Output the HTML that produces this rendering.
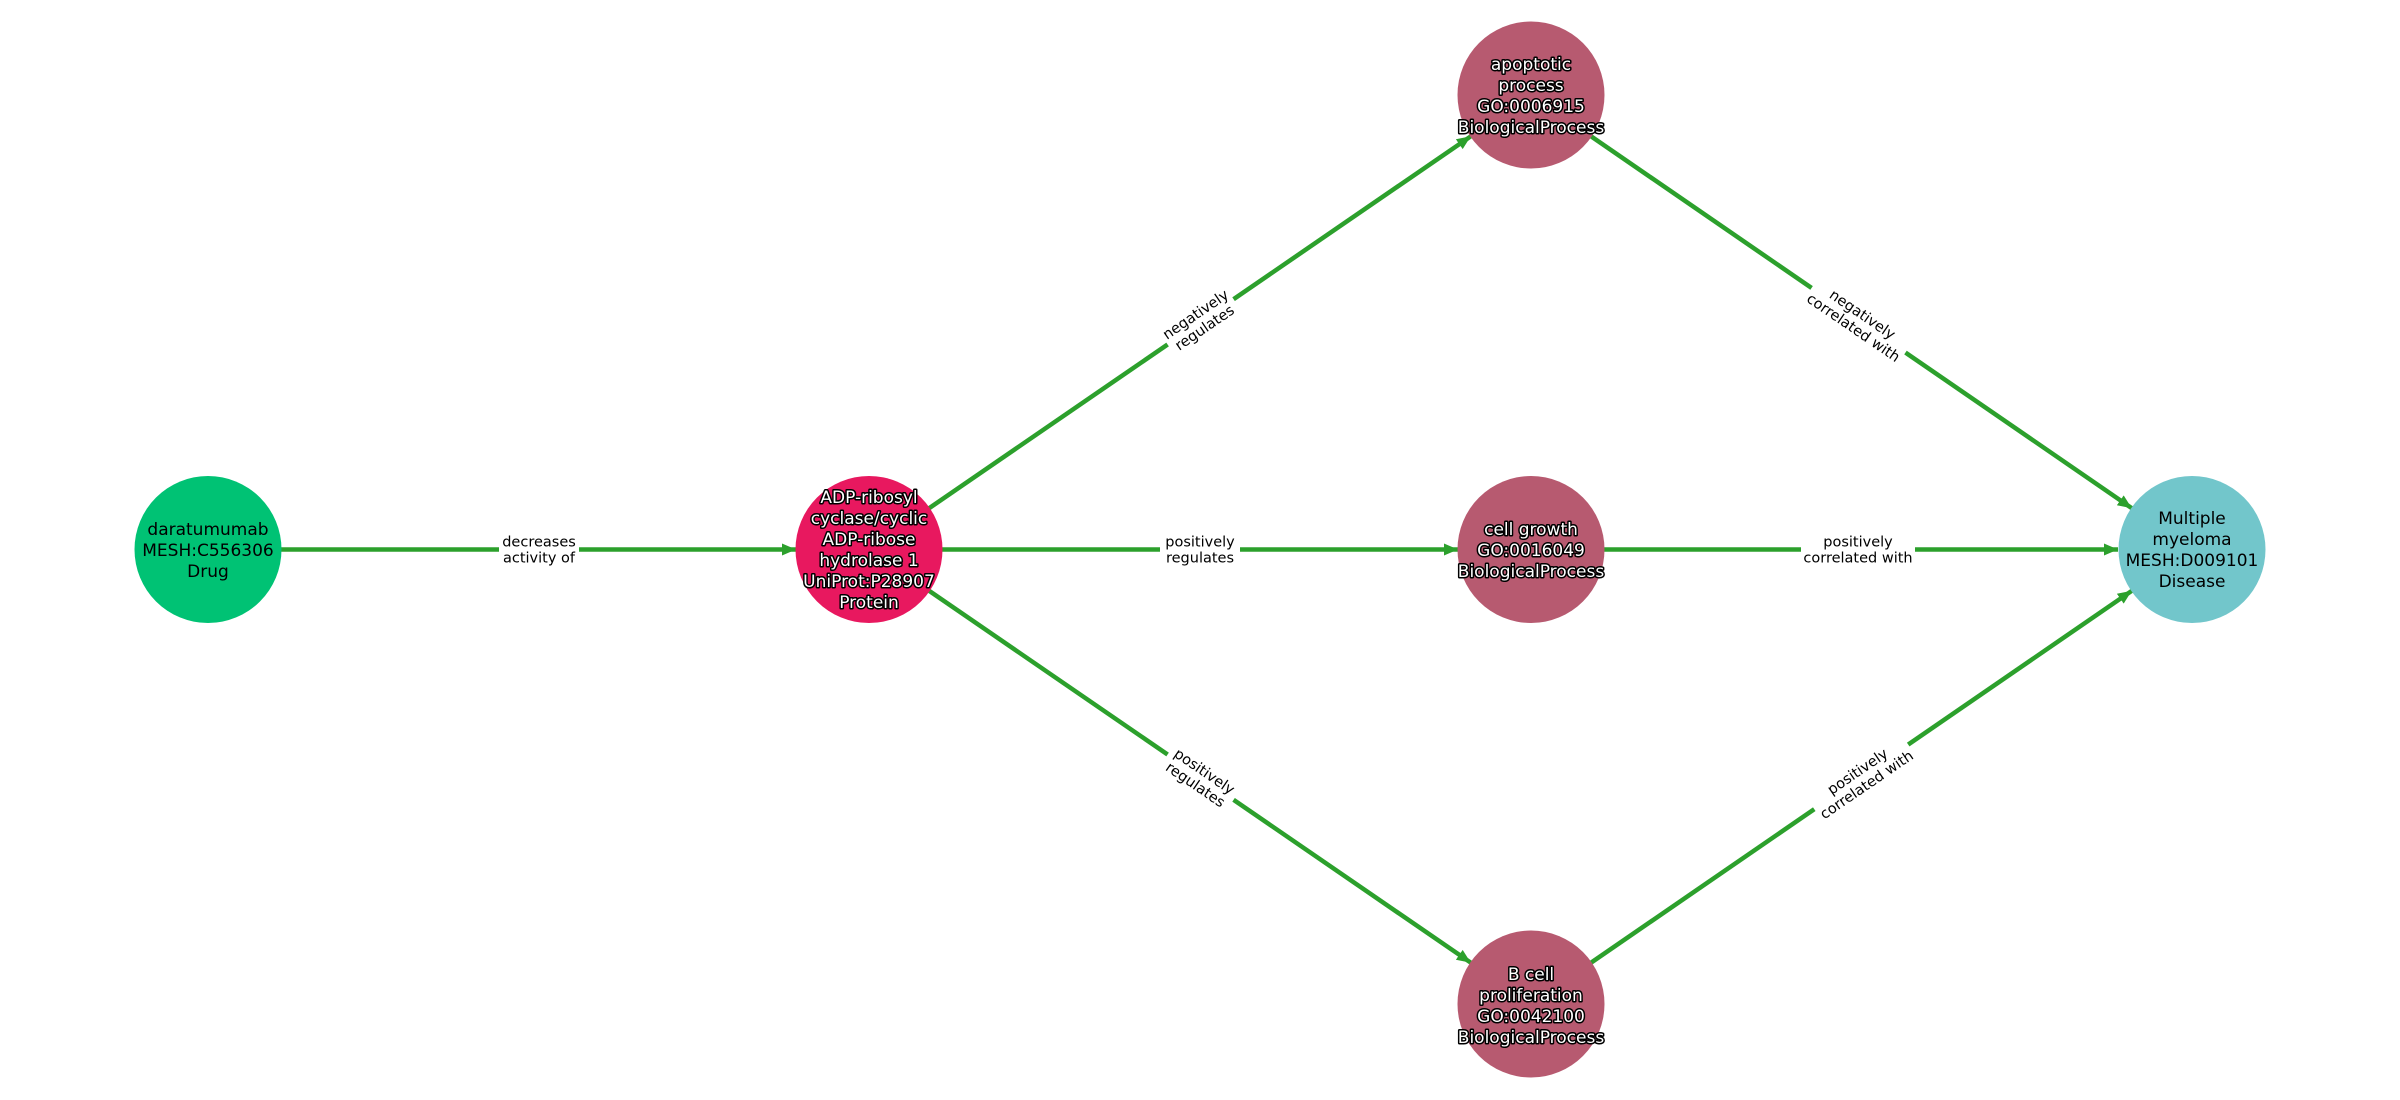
<!DOCTYPE html>
<html><head><meta charset="utf-8"><style>
html,body{margin:0;padding:0;background:#fff;}
svg{display:block;}
.n{font-family:"DejaVu Sans","Liberation Sans",sans-serif;font-size:17px;text-anchor:middle;}
.w{fill:#fff;stroke:#000;stroke-width:3px;paint-order:stroke;stroke-linejoin:round;}
.b{fill:#000;}
.e{font-family:"DejaVu Sans","Liberation Sans",sans-serif;font-size:14.5px;text-anchor:middle;fill:#000;}
</style></head><body>
<svg width="2400" height="1100" viewBox="0 0 2400 1100" xmlns="http://www.w3.org/2000/svg">
<defs>
<marker id="a" markerUnits="userSpaceOnUse" markerWidth="16" markerHeight="14" refX="14" refY="7" orient="auto">
<path d="M0,1 L14,7 L0,13 z" fill="#2ca02c"/>
</marker>
</defs>
<g stroke="#2ca02c" stroke-width="4.5" fill="none" marker-end="url(#a)">
<line x1="208" y1="549.5" x2="796" y2="549.5"/>
<line x1="869" y1="549.5" x2="1470.8" y2="136.3"/>
<line x1="869" y1="549.5" x2="1458" y2="549.5"/>
<line x1="869" y1="549.5" x2="1470.8" y2="962.7"/>
<line x1="1531" y1="95" x2="2131.8" y2="508.2"/>
<line x1="1531" y1="549.5" x2="2118" y2="549.5"/>
<line x1="1531" y1="1004" x2="2131.8" y2="590.8"/>
</g>
<!-- edge labels -->
<g transform="translate(539,549.5)"><rect x="-40" y="-18" width="80" height="36" fill="#fff"/><text class="e" y="-3">decreases</text><text class="e" y="13">activity of</text></g>
<g transform="translate(1200,321) rotate(-34.4)"><rect x="-40" y="-18" width="80" height="36" fill="#fff"/><text class="e" y="-3">negatively</text><text class="e" y="13">regulates</text></g>
<g transform="translate(1200,549.5)"><rect x="-40" y="-18" width="80" height="36" fill="#fff"/><text class="e" y="-3">positively</text><text class="e" y="13">regulates</text></g>
<g transform="translate(1200,778) rotate(34.4)"><rect x="-40" y="-18" width="80" height="36" fill="#fff"/><text class="e" y="-3">positively</text><text class="e" y="13">regulates</text></g>
<g transform="translate(1858,321) rotate(34.4)"><rect x="-57" y="-18" width="114" height="36" fill="#fff"/><text class="e" y="-3">negatively</text><text class="e" y="13">correlated with</text></g>
<g transform="translate(1858,549.5)"><rect x="-57" y="-18" width="114" height="36" fill="#fff"/><text class="e" y="-3">positively</text><text class="e" y="13">correlated with</text></g>
<g transform="translate(1862,778) rotate(-34.4)"><rect x="-57" y="-18" width="114" height="36" fill="#fff"/><text class="e" y="-3">positively</text><text class="e" y="13">correlated with</text></g>
<!-- nodes -->
<circle cx="208" cy="549.5" r="73.5" fill="#00c274"/>
<circle cx="869" cy="549.5" r="73.5" fill="#e8185f"/>
<circle cx="1531" cy="95" r="73.5" fill="#b75a70"/>
<circle cx="1531" cy="549.5" r="73.5" fill="#b75a70"/>
<circle cx="1531" cy="1004" r="73.5" fill="#b75a70"/>
<circle cx="2192" cy="549.5" r="73.5" fill="#72c6cb"/>
<g class="n b"><text x="208" y="535">daratumumab</text><text x="208" y="556">MESH:C556306</text><text x="208" y="577">Drug</text></g>
<g class="n w"><text x="869" y="503">ADP-ribosyl</text><text x="869" y="524">cyclase/cyclic</text><text x="869" y="545">ADP-ribose</text><text x="869" y="566">hydrolase 1</text><text x="869" y="587">UniProt:P28907</text><text x="869" y="608">Protein</text></g>
<g class="n w"><text x="1531" y="70">apoptotic</text><text x="1531" y="91">process</text><text x="1531" y="112">GO:0006915</text><text x="1531" y="133">BiologicalProcess</text></g>
<g class="n w"><text x="1531" y="535">cell growth</text><text x="1531" y="556">GO:0016049</text><text x="1531" y="577">BiologicalProcess</text></g>
<g class="n w"><text x="1531" y="980">B cell</text><text x="1531" y="1001">proliferation</text><text x="1531" y="1022">GO:0042100</text><text x="1531" y="1043">BiologicalProcess</text></g>
<g class="n b"><text x="2192" y="524">Multiple</text><text x="2192" y="545">myeloma</text><text x="2192" y="566">MESH:D009101</text><text x="2192" y="587">Disease</text></g>
</svg>
</body></html>
